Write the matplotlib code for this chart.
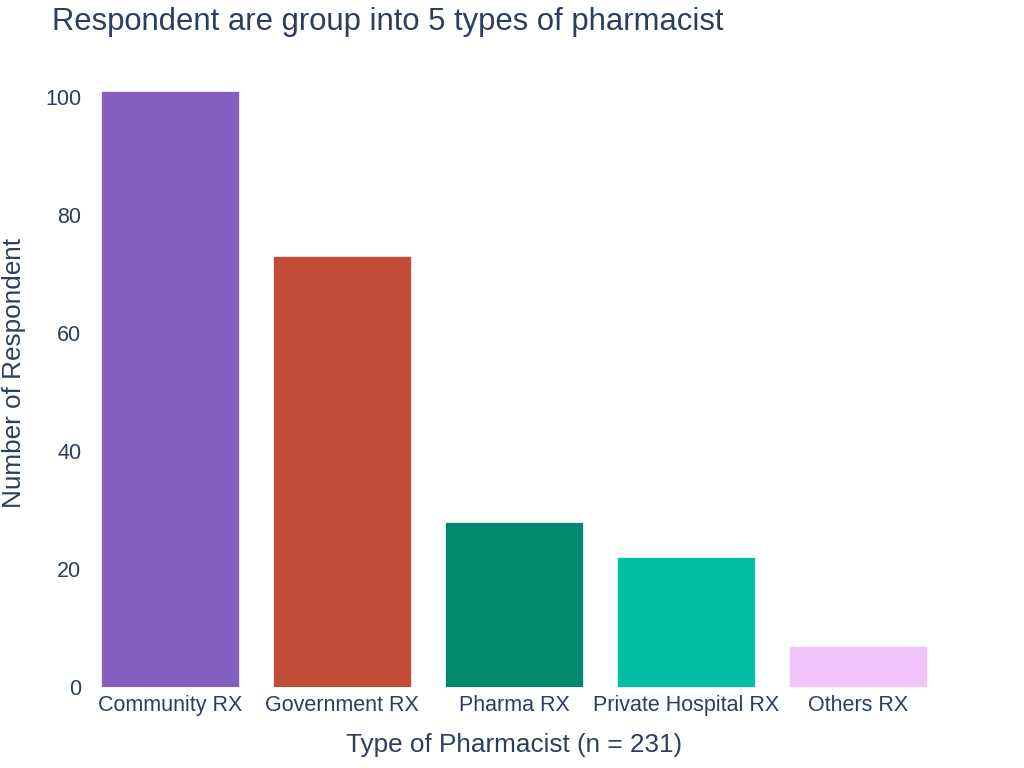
import numpy as np
import matplotlib.pyplot as plt

plt.rcParams['font.family'] = ['Liberation Sans', 'DejaVu Sans']

# data
categories = ["Community RX", "Government RX", "Pharma RX", "Private Hospital RX", "Others RX"]
counts = [101, 73, 28, 22, 7]
bar_colors = ["#855FC1", "#C24C38", "#00896E", "#00BFA2", "#F1C5FB"]
yticks = [0, 20, 40, 60, 80, 100]

text_col = "#2A3F5F"

fig = plt.figure(figsize=(10.24, 7.68), dpi=100)
ax = fig.add_axes([0.082, 0.1055, 0.84, 0.8165])

x = np.arange(len(categories))
ax.bar(x, counts, width=0.8, color=bar_colors, edgecolor="white", linewidth=0.5)

ax.set_xlim(-0.5, len(categories) - 0.5)
ax.set_ylim(0, 106.3)
ax.set_yticks(yticks)
ax.set_xticks(x)
ax.set_xticklabels(categories)

for s in ax.spines.values():
    s.set_visible(False)
ax.tick_params(axis="both", length=0, labelsize=15.5, labelcolor=text_col)
ax.tick_params(axis="y", pad=2)
ax.tick_params(axis="x", pad=6)

ax.set_xlabel("Type of Pharmacist (n = 231)", fontsize=18.8, color=text_col, labelpad=12)
ax.set_ylabel("Number of Respondent", fontsize=18.8, color=text_col, labelpad=14)

fig.text(0.051, 0.972, "Respondent are group into 5 types of pharmacist",
         fontsize=22.3, color=text_col, ha="left", va="center")

fig.savefig("out.png", dpi=100)
